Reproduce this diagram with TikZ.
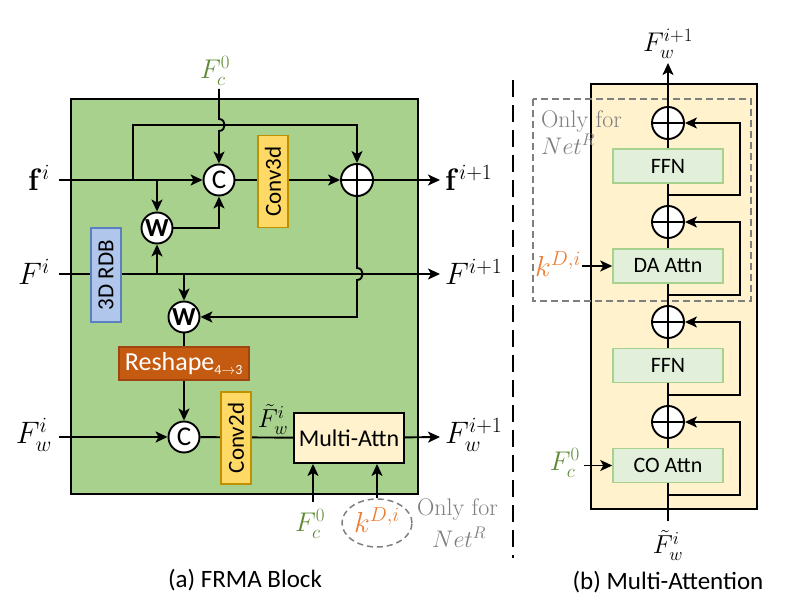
\RequirePackage{fix-cm}
\documentclass[tikz,border=0pt]{standalone}
\usepackage[no-math]{fontspec}
\usepackage{amsmath}
\usetikzlibrary{arrows.meta,calc,shapes.geometric}
\newfontfamily\carlito{Carlito}
\definecolor{blockgreen}{HTML}{A9D18E}
\definecolor{convfill}{HTML}{FFD966}
\definecolor{convdraw}{HTML}{BF9000}
\definecolor{rdbfill}{HTML}{B0C6EA}
\definecolor{rdbdraw}{HTML}{5B7FBF}
\definecolor{reshfill}{HTML}{C55A11}
\definecolor{reshdraw}{HTML}{9E4510}
\definecolor{attnfill}{HTML}{FFF2CC}
\definecolor{subfill}{HTML}{E2EFDA}
\definecolor{subdraw}{HTML}{A9D18E}
\definecolor{fcgreen}{HTML}{5E8A35}
\definecolor{korange}{HTML}{ED7D31}
\definecolor{notegray}{HTML}{7F7F7F}
\tikzset{
  wire/.style={line width=1.9pt},
  arr/.style={wire,-{Stealth[length=12pt,width=11pt,inset=3pt]}},
  opcirc/.style={circle,draw,fill=white,line width=1.9pt,minimum size=31pt,inner sep=0pt,font=\carlito\fontsize{27}{27}\selectfont},
  wcirc/.style={opcirc,font=\carlito\bfseries\fontsize{26}{26}\selectfont},
  oplus/.style={circle,draw,fill=white,line width=1.9pt,minimum size=32pt,inner sep=0pt,
    path picture={\draw[line width=1.9pt] (path picture bounding box.north) -- (path picture bounding box.south)
      (path picture bounding box.west) -- (path picture bounding box.east);}},
  convbox/.style={draw=convdraw,fill=convfill,line width=1.5pt,rotate=90,minimum width=92pt,minimum height=30pt,inner sep=0pt,font=\carlito\fontsize{23}{23}\selectfont},
  subbox/.style={draw=subdraw,fill=subfill,line width=1.5pt,minimum width=110pt,minimum height=34pt,inner sep=0pt,font=\carlito\fontsize{22}{22}\selectfont},
  biglab/.style={font=\fontsize{31}{31}\selectfont,inner sep=1pt},
  lab/.style={font=\fontsize{27}{27}\selectfont,inner sep=1pt},
  note/.style={font=\fontsize{24}{24}\selectfont,text=notegray,inner sep=0pt},
  caption/.style={font=\carlito\fontsize{25}{25}\selectfont},
}
\begin{document}
\begin{tikzpicture}[x=1pt,y=-1pt]
\useasboundingbox (0,0) rectangle (801,610);
\fill[white] (0,0) rectangle (801,610);

% ---------------- (a) FRMA block ----------------
\draw[fill=blockgreen,line width=1.9pt] (71,99) rectangle (418,494);

% inputs and outputs
\node[biglab,anchor=east] (fi) at (51,178) {$\mathbf{f}^{i}$};
\node[biglab,anchor=east] (Fi) at (51,272) {$F^{i}$};
\node[biglab,anchor=east] (Fwi) at (53,435) {$F_w^{i}$};
\node[biglab,anchor=west] (fo) at (444,178) {$\mathbf{f}^{i+1}$};
\node[biglab,anchor=west] (Fo) at (444,272) {$F^{i+1}$};
\node[biglab,anchor=west] (Fwo) at (444,435) {$F_w^{i+1}$};
\node[lab,text=fcgreen] (fctop) at (215,71) {$F_c^{0}$};

\coordinate (fin) at (59,180);
\coordinate (Fin) at (59,274);
\coordinate (Fwin) at (59,437);
\coordinate (fout) at (440,180);
\coordinate (Fout) at (440,274);
\coordinate (Fwout) at (440,437);

\node[opcirc] (C1) at (219,180) {C};
\node[oplus] (P0) at (357,180) {};
\node[wcirc] (W1) at (157,228) {W};
\node[wcirc] (W2) at (184,317) {W};
\node[opcirc] (C2) at (184,437) {C};

% feature line f
\draw[arr] (fin) -- (C1);
\draw[arr] (C1) -- (P0);
\draw[arr] (P0) -- (fout);
% bypass over the top into the sum
\coordinate (byp) at (133,180);
\draw[arr] (byp) -- (133,125) -- (357,125) -- (P0);
% F_c^0 into the concatenation, hopping the bypass
\draw[arr] (219,89) -- (219,119) .. controls (226.5,119) and (226.5,131) .. (219,131) -- (C1);
% warping branch
\draw[arr] (fin -| W1) -- (W1);
\draw[arr] (W1) -| (C1);
% feature line F
\draw[arr] (Fin) -- (Fout);
\draw[arr] (Fin -| W1) -- (W1);
\draw[arr] (Fin -| W2) -- (W2);
% from the sum down to the second warp, hopping line F
\draw[arr] (P0) -- (357,268) .. controls (364.5,268) and (364.5,280) .. (357,280) -- (357,317) -- (W2);

% blocks drawn over the wires
\node[convbox] (conv3d) at (273,181.5) {Conv3d};
\node[draw=rdbdraw,fill=rdbfill,line width=1.5pt,rotate=90,minimum width=94pt,minimum height=30pt,inner sep=0pt,font=\carlito\fontsize{23}{23}\selectfont] (rdb) at (106,275) {3D RDB};

\node[draw=reshdraw,fill=reshfill,line width=1.5pt,minimum width=130pt,minimum height=33pt,inner sep=0pt,text=white,font=\carlito\fontsize{26}{26}\selectfont] (resh) at (184,363.5) {Reshape\textsubscript{\fontsize{14}{14}\selectfont 4$\rightarrow$3}};
\draw[wire] (W2) -- (resh);
\draw[arr] (resh) -- (C2);

\draw[arr] (Fwin) -- (C2);
\node[draw,fill=attnfill,line width=1.9pt,minimum width=110pt,minimum height=50pt,inner sep=0pt,font=\carlito\fontsize{24}{24}\selectfont] (MA) at (349,438) {Multi-Attn};
\draw[wire] (C2) -- (MA);
\node[convbox] (conv2d) at (236,438) {Conv2d};
\node[lab,font=\fontsize{26}{26}\selectfont] (Fwt) at (273,419) {$\tilde{F}_w^{i}$};
\draw[arr] (MA) -- (Fwout);

% extra inputs of the attention block
\node[lab,text=fcgreen] (fcbot) at (310,524) {$F_c^{0}$};
\coordinate (fcin) at (313,502);
\draw[arr] (fcin) -- (fcin |- MA.south);
\node[ellipse,draw=notegray,line width=1.5pt,dash pattern=on 6pt off 4pt,minimum width=70pt,minimum height=48pt,inner sep=0pt] (kell) at (377,523) {};
\node[lab,text=korange,font=\fontsize{29}{29}\selectfont] (kbot) at (377,520) {$k^{D,i}$};
\draw[arr] (kell.north) -- (kell.north |- MA.south);
\node[note,anchor=west] (only1) at (417,510) {Only for};
\node[note,anchor=west] (net1) at (432,537) {$Net^{R}$};

\node[caption] (capa) at (245,580) {(a) FRMA Block};

% separator
\draw[line width=2.8pt,dash pattern=on 17pt off 8pt] (513,80) -- (513,558);

% ---------------- (b) Multi-Attention ----------------
\draw[fill=attnfill,line width=1.9pt] (591,84) rectangle (757,509);
\draw[notegray,line width=1.5pt,dash pattern=on 7pt off 4pt] (533,99) rectangle (751,301);
\node[note,anchor=west] (only2) at (541,122) {Only for};
\node[note,anchor=west] (net2) at (541,144) {$Net^{R}$};

\node[oplus] (P1) at (668,123) {};
\node[subbox] (ffn1) at (668,166) {FFN};
\node[oplus] (P2) at (668,222) {};
\node[subbox] (da) at (668,266) {DA Attn};
\node[oplus] (P3) at (668,322) {};
\node[subbox] (ffn2) at (668,365.5) {FFN};
\node[oplus] (P4) at (668,422) {};
\node[subbox] (co) at (668,465.5) {CO Attn};

\coordinate (top) at (668,63);
\coordinate (bot) at (668,521);
\node[lab] (Fwtop) at (668,44) {$F_w^{i+1}$};
\node[lab,font=\fontsize{26}{26}\selectfont] (Fwbot) at (668,545) {$\tilde{F}_w^{i}$};

\draw[arr] (P1) -- (top);
\draw[wire] (ffn1) -- (P1);
\draw[wire] (P2) -- (ffn1);
\draw[wire] (da) -- (P2);
\draw[wire] (P3) -- (da);
\draw[wire] (ffn2) -- (P3);
\draw[wire] (P4) -- (ffn2);
\draw[wire] (co) -- (P4);
\draw[wire] (bot) -- (co);

% residual connections
\coordinate (s1) at (668,195);
\coordinate (s2) at (668,295);
\coordinate (s3) at (668,395);
\coordinate (s4) at (668,495);
\draw[arr] (s1) -- (740,195) |- (P1);
\draw[arr] (s2) -- (740,295) |- (P2);
\draw[arr] (s3) -- (740,395) |- (P3);
\draw[arr] (s4) -- (740,495) |- (P4);

\node[lab,text=korange,anchor=east,font=\fontsize{29}{29}\selectfont] (kin) at (582,264) {$k^{D,i}$};
\draw[arr] (kin.east |- da) -- (da);
\node[lab,text=fcgreen,anchor=east,inner sep=4pt] (fcin2) at (584,463) {$F_c^{0}$};
\draw[arr] (fcin2.east |- co) -- (co);

\node[caption] (capb) at (668,582) {(b) Multi-Attention};
\end{tikzpicture}
\end{document}
